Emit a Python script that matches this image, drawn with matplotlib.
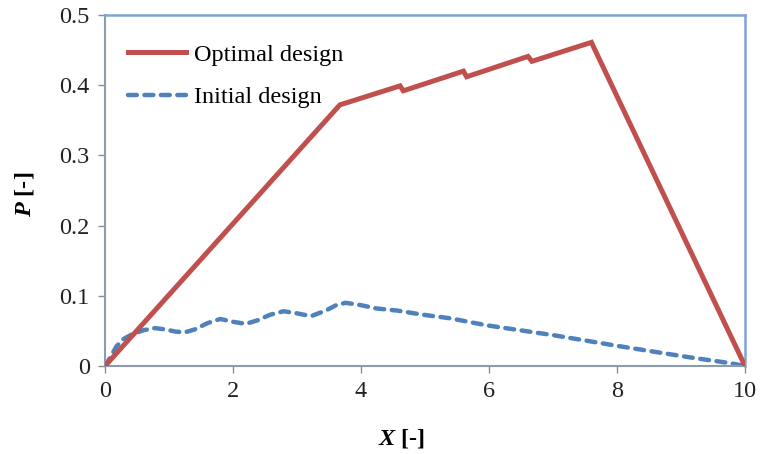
import matplotlib
matplotlib.use("Agg")
import matplotlib.pyplot as plt

# Optimal design (red solid)
opt_x = [0.0, 3.67, 4.61, 4.66, 5.60, 5.65, 6.61, 6.67, 7.60, 10.0]
opt_y = [0.0, 0.372, 0.399, 0.392, 0.420, 0.412, 0.441, 0.434, 0.461, 0.0]

# Initial design (blue dashed)
ini_x = [0.0, 0.08, 0.18, 0.28, 0.42, 0.60, 0.78, 0.95, 1.10, 1.25, 1.40, 1.60,
         1.80, 2.00, 2.20, 2.38, 2.58, 2.79, 3.00, 3.22, 3.45, 3.62, 3.76, 3.98,
         4.24, 4.56, 4.97, 5.39, 5.96, 7.00, 8.05, 9.09, 9.77, 10.0]
ini_y = [0.0, 0.012, 0.028, 0.038, 0.045, 0.051, 0.054, 0.052, 0.049, 0.048,
         0.052, 0.061, 0.067, 0.063, 0.060, 0.065, 0.073, 0.078, 0.075, 0.071,
         0.079, 0.087, 0.090, 0.087, 0.082, 0.079, 0.073, 0.068, 0.058, 0.044,
         0.028, 0.013, 0.004, 0.0]

x_ticks = [0, 2, 4, 6, 8, 10]
y_ticks = [0, 0.1, 0.2, 0.3, 0.4, 0.5]
y_ticklabels = ["0", "0.1", "0.2", "0.3", "0.4", "0.5"]

plt.rcParams['font.family'] = ['Liberation Serif', 'DejaVu Serif']
plt.rcParams['mathtext.fontset'] = 'custom'
plt.rcParams['mathtext.it'] = 'Liberation Serif:italic:bold'
plt.rcParams['mathtext.rm'] = 'Liberation Serif:bold'

fig = plt.figure(figsize=(7.6, 4.54), dpi=100)
ax = fig.add_axes([105/760, 88/454, 640/760, 351/454])

red = '#C0504D'
blue = '#4F81BD'

ax.plot(opt_x, opt_y, color=red, lw=3.6, solid_joinstyle='miter',
        label='Optimal design', zorder=3)
ax.plot(ini_x, ini_y, color=blue, lw=3.2, linestyle=(0, (2.0, 1.7)),
        dash_capstyle='round', label='Initial design', zorder=2)

ax.set_xlim(0, 10)
ax.set_ylim(0, 0.5)
ax.set_xticks(x_ticks)
ax.set_xticklabels([str(t) for t in x_ticks])
ax.set_yticks(y_ticks)
ax.set_yticklabels(y_ticklabels)

ax.tick_params(axis='both', labelsize=17.5, colors='#222222', length=5,
               width=1.0, direction='out', pad=6)
ax.tick_params(axis='both', color='#8C8C8C')
for s in ['left', 'bottom']:
    ax.spines[s].set_color('#8C9BB0')
    ax.spines[s].set_linewidth(1.5)
for s in ['top', 'right']:
    ax.spines[s].set_color('#7FA3D6')
    ax.spines[s].set_linewidth(1.8)

ax.set_xlabel(r'$X$ [-]', fontsize=17.5, fontweight='bold')
ax.xaxis.set_label_coords((402 - 105) / 640, -(427 - 366) / 351)
ax.set_ylabel(r'$P$ [-]', fontsize=17.5, fontweight='bold')
ax.yaxis.set_label_coords(-(105 - 36) / 640, 0.49)

leg = ax.legend(loc='upper left', bbox_to_anchor=(0.036, 0.918), frameon=False,
                fontsize=17.5, handlelength=2.4, handletextpad=0.33,
                labelspacing=0.84, borderpad=0, borderaxespad=0)

fig.savefig('out.png', dpi=100)
